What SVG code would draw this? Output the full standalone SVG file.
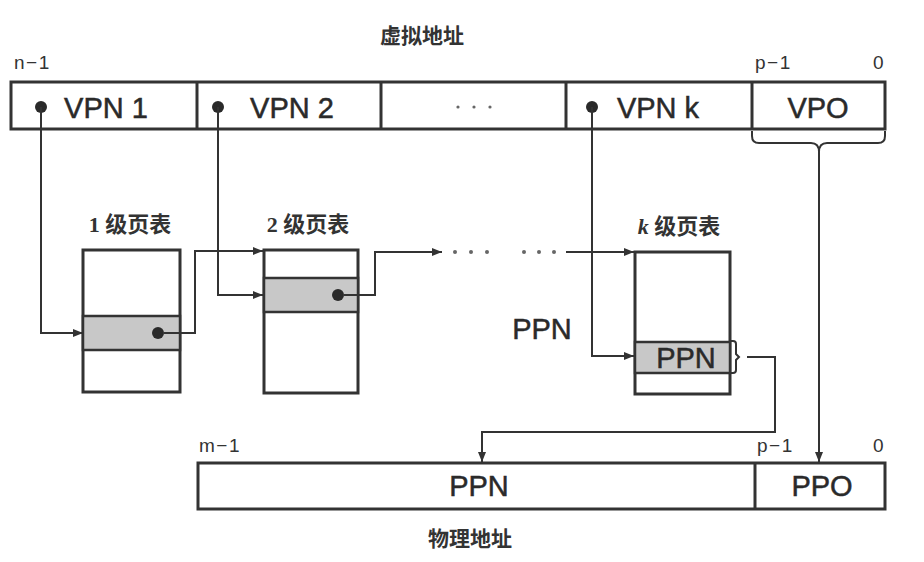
<svg xmlns="http://www.w3.org/2000/svg" width="924" height="562" viewBox="0 0 924 562">
<defs>
<style>
.box{fill:#fff;stroke:#333;stroke-width:3}
.row{fill:#c8c8c8;stroke:#333;stroke-width:2.5}
.ln{fill:none;stroke:#333;stroke-width:2}
.dot{fill:#2a2a2a}
.lbl{font-family:"Liberation Sans",Arial,sans-serif;font-size:29px;fill:#2a2a2a;stroke:#2a2a2a;stroke-width:0.5;text-anchor:middle}
.bit{font-family:"Liberation Sans",Arial,sans-serif;font-size:19px;fill:#333;letter-spacing:1.5px}
.cjk{font-family:"Liberation Sans","Noto Sans CJK SC",sans-serif;font-size:21px;fill:#333;text-anchor:middle;font-weight:bold}
.tbl{font-family:"Liberation Serif","Noto Sans CJK SC",serif;font-size:22px;fill:#333;text-anchor:middle;font-weight:bold}
.ell{fill:#666}
</style>
<marker id="ah" viewBox="0 0 10 8" refX="10" refY="4" markerWidth="10" markerHeight="8" markerUnits="userSpaceOnUse" orient="auto">
<path d="M0,0 L10,4 L0,8 Z" fill="#333"/>
</marker>
</defs>
<rect width="924" height="562" fill="#fff"/>

<text class="cjk" x="422" y="43">虚拟地址</text>

<g id="virtual-address">
<text class="bit" x="14" y="69">n−1</text>
<text class="bit" x="755" y="69">p−1</text>
<text class="bit" x="873" y="69">0</text>
<rect class="box" x="11" y="82" width="874" height="47"/>
<line class="ln" x1="197" y1="82" x2="197" y2="129" style="stroke-width:3"/>
<line class="ln" x1="381" y1="82" x2="381" y2="129" style="stroke-width:3"/>
<line class="ln" x1="566" y1="82" x2="566" y2="129" style="stroke-width:3"/>
<line class="ln" x1="752" y1="82" x2="752" y2="129" style="stroke-width:3"/>
<circle class="dot" cx="41" cy="107" r="6"/>
<text class="lbl" x="106" y="118">VPN 1</text>
<circle class="dot" cx="218" cy="107" r="6"/>
<text class="lbl" x="292" y="118">VPN 2</text>
<circle class="ell" cx="458" cy="107" r="1.6"/>
<circle class="ell" cx="474" cy="107" r="1.6"/>
<circle class="ell" cx="490" cy="107" r="1.6"/>
<circle class="dot" cx="592" cy="107" r="6"/>
<text class="lbl" x="658" y="118">VPN k</text>
<text class="lbl" x="818" y="118">VPO</text>
</g>

<g id="table1">
<text class="tbl" x="130" y="232">1 级页表</text>
<rect class="box" x="83" y="250" width="97" height="142"/>
<rect class="row" x="83" y="316" width="97" height="34"/>
<circle class="dot" cx="158" cy="333" r="6"/>
</g>

<g id="table2">
<text class="tbl" x="308" y="232">2 级页表</text>
<rect class="box" x="264" y="250" width="94" height="143"/>
<rect class="row" x="264" y="278" width="94" height="34"/>
<circle class="dot" cx="338" cy="295" r="6"/>
</g>

<g id="tablek">
<text class="tbl" x="679" y="234"><tspan font-style="italic">k</tspan> 级页表</text>
<rect class="box" x="635" y="252" width="95" height="142"/>
<rect class="row" x="635" y="342" width="95" height="31"/>
<text class="lbl" x="686" y="368">PPN</text>
<path class="ln" d="M730,341 h3 q3,0 3,3 v10 l3,3 l-3,3 v10 q0,3 -3,3 h-3"/>
</g>

<text class="lbl" x="542" y="339">PPN</text>

<g id="physical-address">
<text class="bit" x="199" y="452">m−1</text>
<text class="bit" x="757" y="452">p−1</text>
<text class="bit" x="873" y="452">0</text>
<rect class="box" x="198" y="463" width="687" height="46"/>
<line class="ln" x1="755" y1="463" x2="755" y2="509" style="stroke-width:3"/>
<text class="lbl" x="479" y="496">PPN</text>
<text class="lbl" x="822" y="496">PPO</text>
<text class="cjk" x="470" y="546">物理地址</text>
</g>

<g id="connectors">
<path class="ln" d="M41,107 V333 H83" marker-end="url(#ah)"/>
<path class="ln" d="M164,333 H195 V251 H263" marker-end="url(#ah)"/>
<path class="ln" d="M218,107 V295 H263" marker-end="url(#ah)"/>
<path class="ln" d="M344,295 H375 V252 H442" marker-end="url(#ah)"/>
<circle class="ell" cx="455" cy="252" r="2"/>
<circle class="ell" cx="471" cy="252" r="2"/>
<circle class="ell" cx="487" cy="252" r="2"/>
<circle class="ell" cx="524" cy="252" r="2"/>
<circle class="ell" cx="539" cy="252" r="2"/>
<circle class="ell" cx="554" cy="252" r="2"/>
<path class="ln" d="M566,252 H634" marker-end="url(#ah)"/>
<path class="ln" d="M592,107 V356 H634" marker-end="url(#ah)"/>
<path class="ln" d="M752,131 v5 q0,7 7,7 h52 q8,0 8,9 q0,-9 8,-9 h51 q7,0 7,-7 v-5"/>
<path class="ln" d="M819,152 V462" marker-end="url(#ah)"/>
<path class="ln" d="M747,357 H775 V432 H482 V462" marker-end="url(#ah)"/>
</g>
</svg>
